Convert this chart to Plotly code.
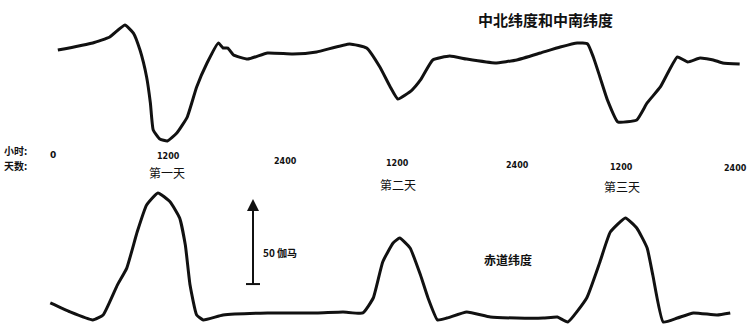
import plotly.graph_objects as go

# Hours since start (0-72) and disturbance in gamma (nT)
mid_hours = [0.3, 4.0, 5.8, 7.4, 8.3, 9.0, 9.7, 10.1, 10.4, 11.1, 11.9, 12.9, 14.0, 15.0, 16.1,
             17.3, 17.8, 18.3, 18.9, 20.4, 22.5, 25.2, 27.7, 31.2, 33.0, 34.4, 35.5, 36.3,
             37.8, 38.7, 40.0, 41.8, 43.6, 46.6, 48.9, 51.4, 53.5, 55.3, 56.4, 57.0, 57.7,
             58.5, 59.6, 61.6, 62.7, 64.1, 65.9, 67.0, 68.3, 69.7, 70.7, 72.5]
mid_gamma = [2.9, 7.1, 10.6, 17.6, 12.9, 2.9, -12.9, -28.2, -44.1, -49.4, -50.6, -45.9, -36.5,
             -18.8, -4.7, 7.1, 4.1, 4.1, 0.0, -2.4, 1.2, 0.6, 1.8, 6.5, 4.1, -7.1, -18.8, -25.9,
             -20.6, -14.7, -2.9, -0.6, -2.4, -4.7, -2.9, 1.2, 4.7, 7.1, 6.5, -1.2, -12.9,
             -26.5, -39.4, -38.2, -28.2, -18.8, -1.2, -4.1, -1.8, -2.9, -4.7, -5.3]

eq_hours = [-0.5, 1.6, 4.0, 5.1, 6.6, 7.6, 8.7, 9.7, 10.9, 12.2, 13.2, 13.8, 14.3, 15.0, 15.7,
            17.8, 22.5, 27.7, 30.5, 32.6, 33.7, 34.7, 35.8, 36.5, 37.6, 38.7, 39.5, 40.5,
            41.5, 43.6, 46.1, 48.9, 51.7, 53.2, 54.3, 56.3, 57.7, 58.8, 60.4, 61.6, 62.7,
            63.3, 64.4, 65.9, 67.6, 70.1, 71.5]
eq_gamma = [7.1, 1.8, -2.9, 0.0, 17.6, 27.6, 48.8, 64.7, 71.8, 66.5, 57.1, 41.2, 17.6, 0.0, -2.9,
            0.0, 1.2, 1.2, 1.8, 1.2, 10.0, 31.2, 42.4, 45.3, 39.4, 23.5, 10.0, -2.9,
            -1.8, 1.8, -1.2, -1.8, -1.8, -1.2, -4.1, 10.0, 31.2, 48.8, 57.1, 51.2, 39.4,
            23.5, -4.1, -1.8, 1.2, 0.0, 1.2]

# Tick labels (hour positions as drawn) and day labels
tick_hours = [-0.2, 12, 24.4, 36.3, 49, 60, 72.1]
tick_labels = ["0", "1200", "2400", "1200", "2400", "1200", "2400"]
tick_dy = [155, 156, 161, 163, 165, 167, 168]
day_hours = [11.9, 36.3, 60.0]
day_labels = ["第一天", "第二天", "第三天"]
day_dy = [172, 184, 186]

scale_gamma = 50
scale_base = 18.2

PX_PER_H = 9.444
X0 = 55
W, H = 752, 332
PX_PER_G = 1.7

def hx(px):
    return (px - X0) / PX_PER_H

line_style = dict(color="#111", width=3, shape="spline", smoothing=0.4)
fig = go.Figure()
fig.add_trace(go.Scatter(x=mid_hours, y=mid_gamma, mode="lines", yaxis="y2",
                         line=line_style, showlegend=False, hoverinfo="skip"))
fig.add_trace(go.Scatter(x=eq_hours, y=eq_gamma, mode="lines", yaxis="y",
                         line=line_style, showlegend=False, hoverinfo="skip"))

# scale bar
fig.add_trace(go.Scatter(x=[hx(253), hx(253)], y=[scale_base, scale_base + scale_gamma - 3],
                         mode="lines", line=dict(color="#111", width=2),
                         showlegend=False, hoverinfo="skip"))
fig.add_trace(go.Scatter(x=[hx(246), hx(260)], y=[scale_base, scale_base], mode="lines",
                         line=dict(color="#111", width=2), showlegend=False, hoverinfo="skip"))

annotations = []
annotations.append(dict(x=hx(253), y=scale_base + scale_gamma, ax=hx(253),
                        ay=scale_base + scale_gamma - 12, xref="x", yref="y", axref="x", ayref="y",
                        showarrow=True, arrowhead=2, arrowsize=1.2, arrowwidth=2,
                        arrowcolor="#111", text=""))

font_cjk = "Noto Sans CJK SC, sans-serif"
def px_ann(x, y, text, size, bold=False, xanchor="center"):
    t = f"<b>{text}</b>" if bold else text
    annotations.append(dict(x=x / W, y=1 - y / H, xref="paper", yref="paper", text=t,
                            showarrow=False, xanchor=xanchor, yanchor="middle",
                            font=dict(family=font_cjk, size=size, color="#111")))

for h, lab, dy in zip(tick_hours, tick_labels, tick_dy):
    annotations.append(dict(x=h, y=1 - dy / H, xref="x", yref="paper", text=f"<b>{lab}</b>",
                            showarrow=False, xanchor="center", yanchor="middle",
                            font=dict(family="DejaVu Sans", size=8 if lab != "0" else 9,
                                      color="#111")))
for h, lab, dy in zip(day_hours, day_labels, day_dy):
    annotations.append(dict(x=h, y=1 - dy / H, xref="x", yref="paper", text=lab,
                            showarrow=False, xanchor="center", yanchor="middle",
                            font=dict(family=font_cjk, size=12, color="#111")))

px_ann(2, 150, "小时:", 10, bold=True, xanchor="left")
px_ann(2, 165, "天数:", 10, bold=True, xanchor="left")
px_ann(545, 20, "中北纬度和中南纬度", 15, bold=True)
px_ann(508, 259, "赤道纬度", 12, bold=True)
px_ann(261, 252, "50 伽马", 10, bold=True, xanchor="left")

fig.update_layout(
    width=W, height=H,
    margin=dict(l=0, r=0, t=0, b=0),
    paper_bgcolor="white", plot_bgcolor="white",
    xaxis=dict(range=[hx(0), hx(W)], visible=False),
    yaxis=dict(range=[(315 - H) / PX_PER_G, 315 / PX_PER_G], visible=False),
    yaxis2=dict(range=[(55 - H) / PX_PER_G, 55 / PX_PER_G], visible=False,
                overlaying="y"),
    annotations=annotations,
)

fig.write_html("out.html", config={"displayModeBar": False},
               post_script="document.body.style.margin='0';document.body.style.overflow='hidden';")
